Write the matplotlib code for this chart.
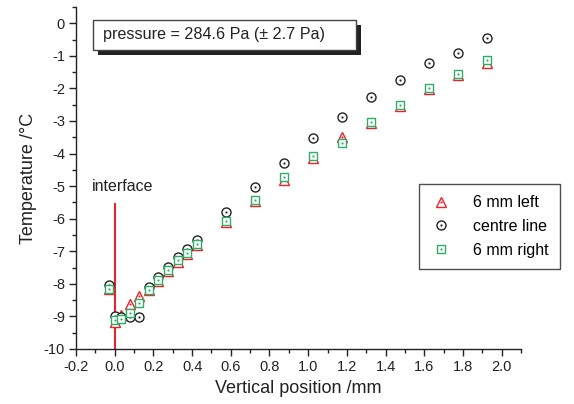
import matplotlib
matplotlib.use("Agg")
import matplotlib.pyplot as plt
from matplotlib.patches import Rectangle
from matplotlib.ticker import MultipleLocator, FormatStrFormatter
from matplotlib.legend_handler import HandlerTuple

plt.rcParams['font.family'] = ['Liberation Sans', 'DejaVu Sans']
plt.rcParams['axes.unicode_minus'] = False

# Data (vertical position in mm, temperature in °C)
position = [-0.03, 0.0, 0.035, 0.08, 0.125, 0.175, 0.225, 0.275, 0.325, 0.375, 0.425,
            0.575, 0.725, 0.875, 1.025, 1.175, 1.325, 1.475, 1.625, 1.775, 1.925]
left_6mm = [-8.15, -9.17, -8.97, -8.63, -8.36, -8.2, -7.9, -7.6, -7.32, -7.07, -6.8,
            -6.1, -5.45, -4.8, -4.15, -3.5, -3.06, -2.53, -2.02, -1.6, -1.22]
centre_line = [-8.05, -8.98, -9.02, -9.02, -9.02, -8.1, -7.8, -7.49, -7.19, -6.93, -6.65,
               -5.79, -5.03, -4.3, -3.53, -2.89, -2.27, -1.74, -1.22, -0.9, -0.45]
right_6mm = [-8.16, -9.1, -9.07, -8.89, -8.6, -8.18, -7.88, -7.57, -7.28, -7.06, -6.79,
             -6.08, -5.42, -4.73, -4.06, -3.69, -3.03, -2.5, -2.0, -1.55, -1.14]
series_labels = ['6 mm left', 'centre line', '6 mm right']
interface_x = 0.0
interface_y = [-5.55, -10.0]
pressure_text = 'pressure = 284.6 Pa (\u00b1 2.7 Pa)'

RED = '#e8232b'
GREEN = '#2fad66'
BLACK = '#222222'

W, H = 574, 404
fig = plt.figure(figsize=(W / 100, H / 100), dpi=100)
ax = fig.add_axes([76 / W, 1 - 349 / H, (521 - 76) / W, (349 - 7) / H])

handles = []
for ys, mk, col, ms in [(left_6mm, '^', RED, 7.0), (centre_line, 'o', BLACK, 6.5),
                        (right_6mm, 's', GREEN, 6.0)]:
    l, = ax.plot(position, ys, linestyle='none', marker=mk, markersize=ms,
                 markerfacecolor='white', markeredgecolor=col, markeredgewidth=1.0)
    d, = ax.plot(position, ys, linestyle='none', marker='s', markersize=1.0,
                 markerfacecolor=col, markeredgecolor=col, markeredgewidth=0.3)
    handles.append((l, d))

ax.plot([interface_x, interface_x], interface_y, color=RED, linewidth=1.5, zorder=1)
ax.text(-0.118, -5.0, 'interface', fontsize=11.5, color=BLACK, ha='left', va='center')

ax.set_xlim(-0.2, 2.1)
ax.set_ylim(-10, 0.5)
ax.spines['top'].set_visible(False)
ax.spines['right'].set_visible(False)
for s in ['left', 'bottom']:
    ax.spines[s].set_linewidth(1.0)
    ax.spines[s].set_color(BLACK)

ax.xaxis.set_major_locator(MultipleLocator(0.2))
ax.xaxis.set_minor_locator(MultipleLocator(0.1))
ax.yaxis.set_major_locator(MultipleLocator(1))
ax.yaxis.set_minor_locator(MultipleLocator(0.5))
ax.xaxis.set_major_formatter(FormatStrFormatter('%.1f'))
ax.yaxis.set_major_formatter(FormatStrFormatter('%d'))
ax.tick_params(which='major', direction='out', length=5, width=1.0, labelsize=10.5,
               pad=3, colors=BLACK)
ax.tick_params(which='minor', direction='out', length=2.8, width=1.0, colors=BLACK)

ax.set_xlabel('Vertical position /mm', fontsize=13, color=BLACK, labelpad=4)
ax.set_ylabel('Temperature /\u00b0C', fontsize=13, color=BLACK)
ax.yaxis.set_label_coords(-(76 - 37) / (521 - 76), 0.5)

leg = ax.legend(handles, series_labels, handler_map={tuple: HandlerTuple(ndivide=1)},
                loc='upper left', bbox_to_anchor=((419 - 76) / (521 - 76), 1 - (184 - 7) / (349 - 7)),
                fontsize=11.5, frameon=True, fancybox=False, borderpad=0.7,
                labelspacing=0.55, handlelength=1.4, handletextpad=1.3, borderaxespad=0)
leg.get_frame().set_edgecolor(BLACK)
leg.get_frame().set_linewidth(1.0)

# pressure box with drop shadow (figure pixel coords)
bx0, by0, bx1, by1 = 93, 20, 356, 50
off = 5
fig.patches.append(Rectangle(((bx0 + off) / W, 1 - (by1 + off) / H), (bx1 - bx0) / W,
                             (by1 - by0) / H, transform=fig.transFigure,
                             facecolor=BLACK, edgecolor=BLACK, linewidth=0))
fig.patches.append(Rectangle((bx0 / W, 1 - by1 / H), (bx1 - bx0) / W, (by1 - by0) / H,
                             transform=fig.transFigure, facecolor='white',
                             edgecolor='#444444', linewidth=1.0))
fig.text(103 / W, 1 - 35 / H, pressure_text, fontsize=11.6, color=BLACK,
         ha='left', va='center')

fig.savefig('out.png', dpi=100)
